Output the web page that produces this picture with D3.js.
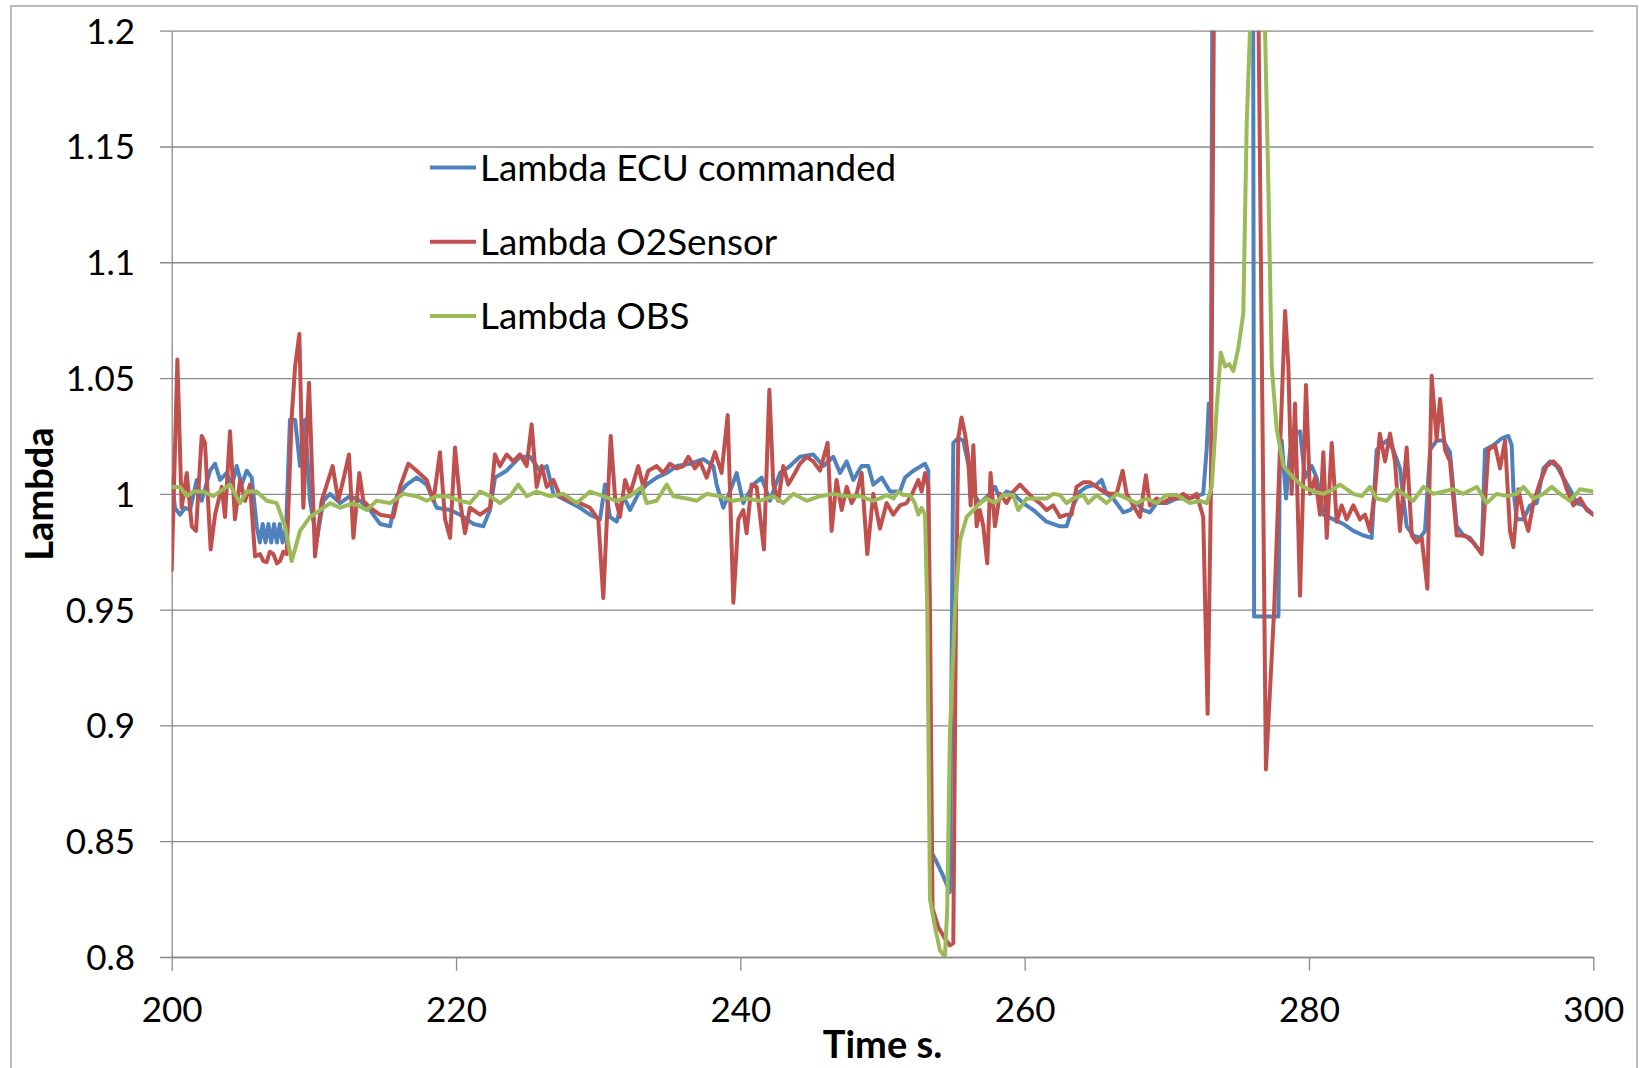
<!DOCTYPE html>
<html><head><meta charset="utf-8">
<script src="https://cdn.jsdelivr.net/npm/d3@7"></script>
<style>
html,body{margin:0;padding:0;background:#fff;}
svg{display:block;}
text{font-family:Lato,"Noto Sans",sans-serif;fill:#000;}
</style></head><body>
<svg id="chart" width="1640" height="1068"></svg>
<script>
const xTicks = [200,220,240,260,280,300];
const yTicks = [0.8,0.85,0.9,0.95,1,1.05,1.1,1.15,1.2];
const seriesNames = ["Lambda ECU commanded","Lambda O2Sensor","Lambda OBS"];

const ecuCommanded = [[200.0,1.007],[200.23,0.994],[200.59,0.991],[200.94,0.994],[201.29,0.993],[201.76,1.006],[202.11,0.997],[202.7,1.010],[203.05,1.013],[203.4,1.006],[203.87,1.009],[204.22,1.003],[204.57,1.012],[204.92,1.004],[205.28,1.010],[205.63,1.007],[205.98,0.986],[206.2,0.979],[206.4,0.987],[206.6,0.979],[206.8,0.987],[207.0,0.979],[207.2,0.987],[207.4,0.979],[207.6,0.987],[207.8,0.979],[208.05,0.986],[208.32,1.032],[208.68,1.032],[209.03,1.012],[209.38,1.032],[209.73,0.997],[210.2,0.980],[210.67,0.997],[211.14,1.000],[211.84,0.996],[212.54,0.999],[213.25,0.997],[213.95,0.993],[214.65,0.987],[215.36,0.986],[215.83,0.999],[216.53,1.004],[217.23,1.007],[217.94,1.004],[218.64,0.994],[219.58,0.993],[220.28,0.991],[221.22,0.987],[221.92,0.986],[222.39,0.993],[222.74,1.007],[223.56,1.010],[224.5,1.016],[225.2,1.016],[225.91,1.010],[226.38,1.012],[226.85,1.000],[227.78,0.997],[228.72,0.994],[229.42,0.991],[230.13,0.989],[230.48,1.004],[230.83,0.990],[231.3,0.988],[231.77,0.999],[232.24,0.993],[232.82,1.000],[233.41,1.004],[234.11,1.007],[234.82,1.009],[235.52,1.012],[236.46,1.013],[237.4,1.015],[238.1,1.012],[238.33,1.004],[238.8,0.994],[239.27,1.001],[239.74,1.009],[240.21,0.996],[240.91,1.004],[241.5,1.007],[242.08,0.997],[242.79,1.009],[243.49,1.012],[244.19,1.016],[245.13,1.017],[245.84,1.012],[246.54,1.016],[247.01,1.009],[247.48,1.014],[247.95,1.006],[248.53,1.012],[249.0,1.012],[249.35,1.004],[249.94,1.007],[250.53,1.001],[251.23,1.001],[251.58,1.007],[252.17,1.010],[252.99,1.013],[253.22,1.010],[253.38,0.846],[253.81,0.841],[254.27,0.835],[254.74,0.828],[254.98,1.022],[255.33,1.024],[255.68,1.023],[256.03,1.013],[256.39,1.000],[256.85,0.996],[257.56,1.000],[257.91,1.003],[258.26,0.998],[258.73,1.001],[259.2,1.000],[259.9,0.996],[260.61,0.993],[261.54,0.988],[262.48,0.986],[262.95,0.986],[263.42,0.995],[263.89,1.001],[264.36,1.003],[265.06,1.004],[265.41,1.006],[265.76,1.000],[266.23,0.998],[266.94,0.992],[267.41,0.993],[267.87,0.996],[268.34,0.993],[268.81,0.992],[269.28,0.996],[269.98,0.996],[270.69,0.998],[271.63,0.998],[272.56,1.000],[272.8,1.019],[272.95,1.039],[273.1,1.039],[273.25,1.3],[276.05,1.3],[276.14,0.947],[277.85,0.947],[277.96,1.019],[278.08,1.023],[278.39,0.998],[278.67,1.019],[279.02,1.026],[279.37,1.027],[279.72,1.007],[280.19,1.012],[280.54,1.007],[281.01,0.991],[281.72,0.989],[282.42,0.987],[283.12,0.984],[283.83,0.982],[284.41,0.981],[284.76,1.019],[285.1,1.021],[285.47,1.023],[285.94,1.019],[286.4,1.011],[286.87,0.986],[287.34,0.982],[287.81,0.981],[288.16,0.984],[288.52,1.019],[288.98,1.023],[289.45,1.023],[289.92,1.018],[290.39,0.986],[290.86,0.982],[291.33,0.981],[291.8,0.977],[292.15,0.975],[292.38,1.019],[292.97,1.021],[293.56,1.024],[294.02,1.025],[294.26,1.021],[294.38,1.002],[294.61,0.989],[295.08,0.989],[295.55,0.995],[296.02,0.996],[296.49,1.011],[296.96,1.014],[297.42,1.012],[297.89,1.007],[298.36,1.002],[298.83,0.996],[299.3,0.995],[300,0.991]];

const o2Sensor = [[200.0,0.967],[200.4,1.058],[200.7,0.994],[201.06,1.009],[201.41,0.986],[201.71,0.984],[202.11,1.025],[202.34,1.022],[202.74,0.976],[203.05,0.991],[203.52,1.003],[203.75,0.990],[204.1,1.027],[204.45,0.989],[204.81,1.006],[205.16,0.997],[205.51,1.004],[205.86,0.973],[206.21,0.974],[206.45,0.971],[206.68,0.9705],[206.9,0.975],[207.15,0.974],[207.4,0.970],[207.62,0.971],[207.85,0.975],[208.09,0.974],[208.44,1.033],[208.68,1.055],[208.98,1.069],[209.26,0.994],[209.66,1.048],[210.08,0.973],[210.55,0.997],[211.32,1.012],[211.72,0.997],[212.07,1.006],[212.47,1.017],[212.78,0.981],[213.2,1.009],[213.48,0.997],[213.95,0.994],[214.65,0.991],[215.59,0.990],[216.06,1.003],[216.65,1.013],[217.23,1.010],[217.94,1.006],[218.41,0.997],[218.87,1.018],[219.23,0.989],[219.58,0.981],[219.93,1.020],[220.28,0.997],[220.63,0.983],[220.98,0.994],[221.69,0.991],[222.39,0.994],[222.74,1.017],[223.09,1.012],[223.56,1.017],[224.03,1.014],[224.5,1.017],[224.97,1.012],[225.32,1.030],[225.67,1.003],[226.03,1.012],[226.38,1.003],[226.85,1.006],[227.32,0.999],[228.02,0.997],[228.72,0.996],[229.42,0.994],[230.01,0.989],[230.36,0.955],[230.88,1.025],[231.18,0.999],[231.53,0.990],[231.89,1.006],[232.24,1.000],[232.82,1.012],[233.17,1.003],[233.53,1.010],[234.11,1.012],[234.58,1.009],[235.05,1.013],[235.52,1.011],[235.99,1.012],[236.34,1.016],[236.81,1.011],[237.16,1.014],[237.63,1.007],[238.22,1.018],[238.68,1.009],[239.11,1.034],[239.51,0.953],[239.86,0.989],[240.21,0.993],[240.44,0.983],[240.79,1.004],[241.15,1.003],[241.66,0.976],[242.04,1.045],[242.32,1.004],[242.67,0.997],[243.02,1.012],[243.37,1.004],[243.84,1.009],[244.19,1.013],[244.66,1.016],[245.13,1.014],[245.6,1.010],[246.14,1.022],[246.42,0.984],[246.77,1.006],[247.13,0.993],[247.48,1.003],[247.83,0.996],[248.18,1.000],[248.53,1.009],[248.93,0.974],[249.35,1.000],[249.82,0.985],[250.29,0.996],[250.76,0.991],[251.23,0.995],[251.7,0.996],[252.16,1.001],[252.52,1.006],[252.75,1.001],[252.99,1.009],[253.22,1.003],[253.34,0.950],[253.52,0.821],[253.92,0.813],[254.39,0.808],[254.74,0.805],[254.98,0.806],[255.17,0.950],[255.33,1.024],[255.56,1.033],[255.8,1.026],[256.03,1.016],[256.2,0.995],[256.39,1.021],[256.62,0.986],[256.85,0.993],[257.09,0.986],[257.37,0.970],[257.6,1.009],[257.91,0.986],[258.26,1.000],[258.73,0.996],[259.2,1.001],[259.67,1.004],[260.14,1.001],[260.61,0.998],[261.07,0.996],[261.54,0.993],[262.01,0.995],[262.48,0.990],[262.95,0.991],[263.3,0.991],[263.65,1.003],[264.12,1.005],[264.59,1.005],[265.06,1.003],[265.53,1.001],[266.0,1.000],[266.47,1.000],[266.89,1.010],[267.17,1.000],[267.64,0.995],[268.11,0.990],[268.53,1.008],[268.81,0.995],[269.28,0.998],[269.75,0.996],[270.22,0.998],[270.69,0.998],[271.16,1.000],[271.63,0.998],[272.09,1.000],[272.56,0.990],[272.87,0.905],[273.1,1.000],[273.4,1.3],[276.3,1.3],[276.97,0.881],[277.55,0.950],[277.96,1.019],[278.32,1.079],[278.55,1.055],[278.78,1.000],[279.02,1.039],[279.37,0.956],[279.79,1.047],[280.07,1.000],[280.43,1.007],[280.78,0.991],[281.01,1.018],[281.25,0.981],[281.6,1.022],[281.95,0.988],[282.3,0.995],[282.65,0.989],[283.12,0.995],[283.59,0.989],[283.94,0.991],[284.29,0.984],[284.65,1.002],[284.98,1.026],[285.35,1.014],[285.7,1.026],[286.05,1.014],[286.4,0.984],[286.87,1.020],[287.23,0.982],[287.58,0.979],[287.93,0.981],[288.33,0.959],[288.63,1.051],[288.98,1.023],[289.22,1.041],[289.57,1.019],[289.92,1.014],[290.39,0.982],[290.98,0.982],[291.56,0.979],[292.15,0.974],[292.62,1.019],[293.09,1.021],[293.44,1.011],[293.79,1.023],[294.14,0.984],[294.38,0.977],[294.73,1.002],[295.08,0.991],[295.43,0.984],[295.78,0.996],[296.25,1.005],[296.72,1.012],[297.19,1.014],[297.66,1.011],[298.13,1.002],[298.6,0.995],[299.07,0.998],[299.54,0.993],[300,0.991]];

const obs = [[200.0,1.003],[200.59,1.003],[201.06,0.999],[201.52,1.001],[202.23,1.001],[202.93,0.999],[203.63,1.002],[204.1,1.004],[204.81,0.996],[205.28,1.001],[205.98,1.001],[206.68,0.997],[207.39,0.996],[207.97,0.986],[208.44,0.971],[209.03,0.984],[209.73,0.990],[210.43,0.993],[211.14,0.996],[211.84,0.994],[212.78,0.996],[213.72,0.993],[214.42,0.997],[215.36,0.996],[216.3,1.000],[217.23,0.999],[217.94,0.997],[218.64,0.999],[219.34,0.999],[220.28,0.997],[220.98,0.996],[221.69,1.001],[222.39,0.999],[223.09,0.996],[223.8,0.999],[224.38,1.004],[224.97,0.999],[225.67,1.001],[226.61,0.999],[227.55,1.000],[228.49,0.996],[229.43,1.001],[230.36,0.999],[231.3,0.997],[232.24,0.999],[233.06,1.003],[233.41,0.996],[234.11,0.997],[234.82,1.004],[235.29,0.999],[236.22,0.998],[236.93,0.997],[237.63,1.000],[238.57,0.999],[239.51,0.997],[240.44,0.998],[241.38,0.997],[242.32,0.999],[243.02,0.996],[243.73,1.000],[244.66,0.997],[245.6,0.999],[246.54,1.000],[247.48,0.999],[248.42,0.999],[249.35,0.997],[249.82,0.998],[250.29,0.9995],[250.76,0.998],[251.11,1.001],[251.46,0.9995],[251.93,0.9995],[252.28,0.996],[252.52,0.991],[252.75,0.994],[252.99,0.991],[253.15,0.950],[253.34,0.825],[253.69,0.813],[254.04,0.803],[254.39,0.800],[254.55,0.820],[254.74,0.896],[255.1,0.950],[255.45,0.980],[255.92,0.990],[256.39,0.993],[256.85,0.996],[257.32,0.998],[257.91,0.996],[258.5,0.9995],[259.2,0.9995],[259.55,0.993],[260.14,0.998],[260.84,0.998],[261.54,0.998],[262.01,1.000],[262.48,0.9995],[262.95,0.996],[263.42,0.998],[264.12,0.9995],[264.47,0.996],[265.06,0.9995],[265.76,0.996],[266.47,1.000],[267.17,0.998],[267.87,0.996],[268.58,0.998],[269.28,0.996],[269.98,0.9995],[270.69,0.9995],[271.63,0.996],[272.34,0.997],[272.81,0.996],[273.16,1.003],[273.51,1.037],[273.79,1.061],[274.1,1.055],[274.4,1.056],[274.68,1.053],[275.03,1.063],[275.38,1.078],[275.62,1.160],[275.85,1.2],[276.1,1.25],[276.6,1.25],[276.91,1.2],[277.14,1.134],[277.38,1.055],[277.73,1.028],[278.2,1.012],[278.9,1.007],[279.6,1.003],[280.31,1.001],[281.01,1.000],[281.72,1.002],[282.18,1.004],[282.65,1.002],[283.12,1.000],[283.71,0.999],[284.29,1.003],[284.76,0.998],[285.47,0.997],[286.17,1.002],[286.87,0.999],[287.34,0.997],[288.05,1.003],[288.75,1.000],[289.45,1.001],[290.16,1.002],[290.86,1.000],[291.8,1.003],[292.5,0.996],[293.2,1.000],[293.91,0.999],[294.61,1.000],[295.08,1.003],[295.78,0.998],[296.49,1.000],[297.07,1.003],[297.66,1.000],[298.36,0.997],[299.07,1.002],[300,1.001]];

const seriesData = [ecuCommanded, o2Sensor, obs];
const seriesColors = ["#4F81BD","#C0504D","#9BBB59"];

const svg = d3.select("#chart");
const L = 171.7, R = 1593.3, T = 30.7, B = 957;
const x = d3.scaleLinear().domain([200,300]).range([L,R]);
const y = d3.scaleLinear().domain([0.8,1.2]).range([B,T]);
const grid = "#8a8a8a";

// outer border
svg.append("rect").attr("x",11).attr("y",6).attr("width",1626).attr("height",1100)
  .attr("fill","none").attr("stroke","#a6a6a6").attr("stroke-width",1.5);

// y axis with gridlines
const yAxis = svg.append("g").attr("transform",`translate(${L},0)`)
  .call(d3.axisLeft(y).tickValues(yTicks).tickSize(-(R-L)).tickSizeOuter(0)
    .tickFormat(d => String(+d.toFixed(2))));
yAxis.select(".domain").attr("stroke",grid).attr("stroke-width",1.3);
yAxis.selectAll(".tick line").attr("x1",-11.7).attr("stroke",grid).attr("stroke-width",1.3);
yAxis.selectAll(".tick text").attr("x",-36.7).attr("dy","12.5px")
  .style("font-size","35px").style("font-family","Lato").attr("fill","#000");

// x axis
const xAxis = svg.append("g").attr("transform",`translate(0,${B})`)
  .call(d3.axisBottom(x).tickValues(xTicks).tickSize(13.7).tickSizeOuter(0));
xAxis.select(".domain").attr("stroke",grid).attr("stroke-width",1.3);
xAxis.selectAll(".tick line").attr("stroke",grid).attr("stroke-width",1.3);
xAxis.selectAll(".tick text").attr("y",64.7).attr("dy",0)
  .style("font-size","35px").style("font-family","Lato").attr("fill","#000");

// clip
svg.append("clipPath").attr("id","plotclip").append("rect")
  .attr("x",L).attr("y",T).attr("width",R-L).attr("height",B-T);

const line = d3.line().x(d => x(d[0])).y(d => y(d[1]));
const lines = svg.append("g").attr("clip-path","url(#plotclip)");
seriesData.forEach((s,i) => {
  lines.append("path").datum(s).attr("d",line).attr("fill","none")
    .attr("stroke",seriesColors[i]).attr("stroke-width",4)
    .attr("stroke-linejoin","round").attr("stroke-linecap","round");
});

// legend
const legendY = [167.5, 241.8, 316];
seriesNames.forEach((n,i) => {
  svg.append("line").attr("x1",430).attr("x2",476).attr("y1",legendY[i]).attr("y2",legendY[i])
    .attr("stroke",seriesColors[i]).attr("stroke-width",4);
  svg.append("text").attr("x",480).attr("y",legendY[i]+13)
    .style("font-size","36.8px").text(n);
});

// axis titles
svg.append("text").attr("x",882.5).attr("y",1058).attr("text-anchor","middle")
  .style("font-size","38px").style("font-weight","bold").text("Time s.");
svg.append("text").attr("transform","translate(53,494) rotate(-90)").attr("text-anchor","middle")
  .style("font-size","38px").style("font-weight","bold").text("Lambda");
</script>
</body></html>
